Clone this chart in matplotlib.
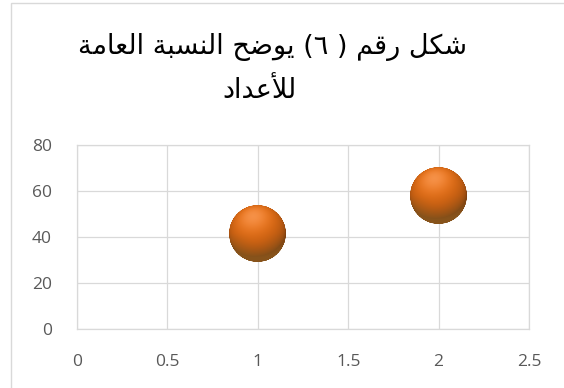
import numpy as np
import matplotlib
matplotlib.use('Agg')
import matplotlib.pyplot as plt
from matplotlib.offsetbox import OffsetImage, AnnotationBbox
from matplotlib.patches import Rectangle

# ---------------- data ----------------
x_values = [1, 2]
y_values = [41.5, 58]
x_ticks = [0, 0.5, 1, 1.5, 2, 2.5]
x_tick_labels = ['0', '0.5', '1', '1.5', '2', '2.5']
y_ticks = [0, 20, 40, 60, 80]
y_tick_labels = ['0', '20', '40', '60', '80']
# logical order text (the parenthetical written with escapes to keep the order explicit)
title_lines = ['شكل رقم ' + '\u0028\u0020\u0666\u0029' + ' يوضح النسبة العامة', 'للأعداد']

# ---------------- minimal Arabic shaping (matplotlib has no complex text layout) ----------------
FORMS = {
    'ا': (0xFE8D, 0xFE8E, None, None),
    'أ': (0xFE83, 0xFE84, None, None),
    'ب': (0xFE8F, 0xFE90, 0xFE91, 0xFE92),
    'ة': (0xFE93, 0xFE94, None, None),
    'ح': (0xFEA1, 0xFEA2, 0xFEA3, 0xFEA4),
    'د': (0xFEA9, 0xFEAA, None, None),
    'ر': (0xFEAD, 0xFEAE, None, None),
    'س': (0xFEB1, 0xFEB2, 0xFEB3, 0xFEB4),
    'ش': (0xFEB5, 0xFEB6, 0xFEB7, 0xFEB8),
    'ض': (0xFEBD, 0xFEBE, 0xFEBF, 0xFEC0),
    'ع': (0xFEC9, 0xFECA, 0xFECB, 0xFECC),
    'ق': (0xFED5, 0xFED6, 0xFED7, 0xFED8),
    'ك': (0xFED9, 0xFEDA, 0xFEDB, 0xFEDC),
    'ل': (0xFEDD, 0xFEDE, 0xFEDF, 0xFEE0),
    'م': (0xFEE1, 0xFEE2, 0xFEE3, 0xFEE4),
    'ن': (0xFEE5, 0xFEE6, 0xFEE7, 0xFEE8),
    'و': (0xFEED, 0xFEEE, None, None),
    'ي': (0xFEF1, 0xFEF2, 0xFEF3, 0xFEF4),
}
LAM_ALEF = {'ا': (0xFEFB, 0xFEFC), 'أ': (0xFEF7, 0xFEF8)}


def shape_rtl(text):
    chars = list(text)
    n = len(chars)
    out = []
    prev_joins = False
    i = 0
    while i < n:
        c = chars[i]
        if c not in FORMS:
            out.append(c)
            prev_joins = False
            i += 1
            continue
        if c == 'ل' and i + 1 < n and chars[i + 1] in LAM_ALEF:
            iso, fin = LAM_ALEF[chars[i + 1]]
            out.append(chr(fin if prev_joins else iso))
            prev_joins = False
            i += 2
            continue
        nxt = chars[i + 1] if i + 1 < n else None
        iso, fin, ini, med = FORMS[c]
        next_joins = ini is not None and nxt in FORMS
        if prev_joins and next_joins:
            f = med
        elif prev_joins:
            f = fin
        elif next_joins:
            f = ini
        else:
            f = iso
        out.append(chr(f))
        prev_joins = next_joins
        i += 1
    mirror = {'(': ')', ')': '('}
    return ''.join(mirror.get(ch, ch) for ch in reversed(out))


# ---------------- sphere marker image ----------------
def sphere_image(size=200):
    yy, xx = np.mgrid[0:size, 0:size]
    u = (xx + 0.5) / size * 2 - 1
    v = 1 - (yy + 0.5) / size * 2
    r2 = u ** 2 + v ** 2
    nz = np.sqrt(np.clip(1 - r2, 0, 1))
    L = np.array([-0.15, 0.6, 0.78])
    L /= np.linalg.norm(L)
    diff = np.clip(u * L[0] + v * L[1] + nz * L[2], 0, 1)
    dark = np.array([0.50, 0.25, 0.06])
    base = np.array([0.92, 0.44, 0.08])
    hi = np.array([0.98, 0.62, 0.36])
    col = dark + (base - dark) * diff[..., None] ** 0.7
    spec = diff ** 8
    col = col + (hi - col) * (spec * 0.7)[..., None]
    # muted brown/olive reflected light at the lower part
    rim = np.clip(-v, 0, 1) * np.clip(np.sqrt(r2) - 0.3, 0, 1) * 1.3
    col = col + (np.array([0.55, 0.38, 0.14]) - col) * np.clip(rim, 0, 0.6)[..., None]
    alpha = np.clip((1 - np.sqrt(r2)) * size / 2 + 0.5, 0, 1)
    return np.dstack([np.clip(col, 0, 1), alpha])


W, H, DPI = 564, 388, 100
fig = plt.figure(figsize=(W / DPI, H / DPI), dpi=DPI)
fig.patch.set_facecolor('white')

# chart outer border
fig.patches.append(Rectangle((11 / W, -0.1), 1.2, 1 - 3 / H + 0.1, transform=fig.transFigure,
                             fill=False, edgecolor='#D9D9D9', linewidth=1.0, clip_on=False))

ax = fig.add_axes([77 / W, 1 - 329 / H, (529 - 77) / W, (329 - 145) / H])
ax.set_xlim(x_ticks[0], x_ticks[-1])
ax.set_ylim(y_ticks[0], y_ticks[-1])
ax.set_xticks(x_ticks)
ax.set_xticklabels(x_tick_labels)
ax.set_yticks(y_ticks)
ax.set_yticklabels(y_tick_labels)
ax.grid(True, color='#D9D9D9', linewidth=0.9)
ax.set_axisbelow(True)
for s in ax.spines.values():
    s.set_color('#D9D9D9')
    s.set_linewidth(0.9)
ax.tick_params(length=0, labelsize=12.5, labelcolor='#595959')
ax.tick_params(axis='x', pad=18)
ax.tick_params(axis='y', pad=18)
for lab in ax.get_xticklabels() + ax.get_yticklabels():
    lab.set_family(['Open Sans', 'DejaVu Sans'])

img = sphere_image(200)
for xv, yv in zip(x_values, y_values):
    oi = OffsetImage(img, zoom=57 / 200, dpi_cor=False)
    ab = AnnotationBbox(oi, (xv, yv), frameon=False, zorder=5, annotation_clip=False)
    ax.add_artist(ab)

fig.text(272 / W, 1 - 54 / H, shape_rtl(title_lines[0]), ha='center', va='baseline',
         fontsize=19.5, family=['DejaVu Sans'], color='black')
fig.text(259 / W, 1 - 98 / H, shape_rtl(title_lines[1]), ha='center', va='baseline',
         fontsize=19.5, family=['DejaVu Sans'], color='black')

fig.savefig('out.png', dpi=DPI, facecolor='white')
